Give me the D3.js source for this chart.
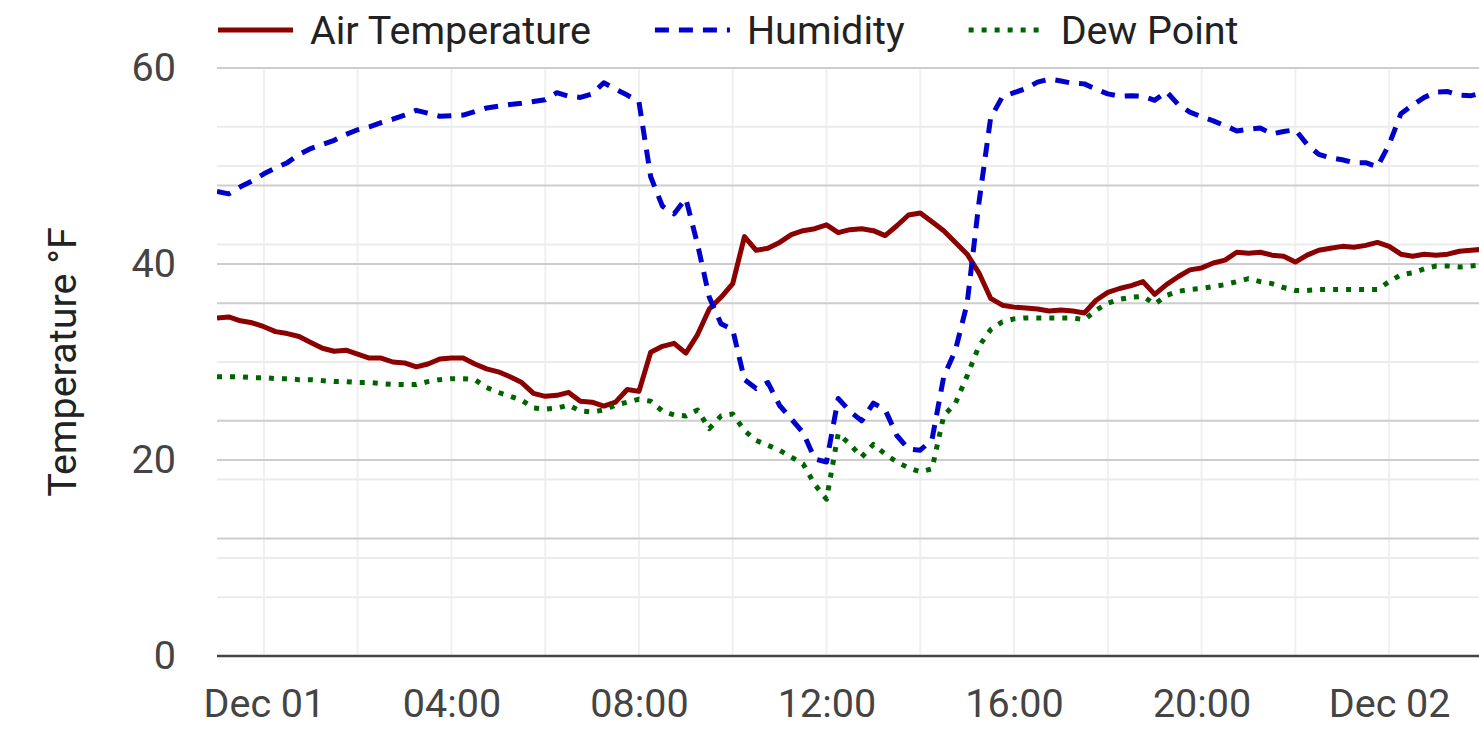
<!DOCTYPE html>
<html>
<head>
<meta charset="utf-8">
<script src="https://cdn.jsdelivr.net/npm/d3@7"></script>
<style>
  html, body { margin: 0; padding: 0; background: #fff; }
  svg { display: block; font-family: Roboto, "Noto Sans", sans-serif; }
</style>
</head>
<body>
<svg id="chart" width="1479" height="733"></svg>
<script>
//------------------------------------------------------------------------------
// Data (readings every 15 minutes, starting Nov 30 23:00)
//------------------------------------------------------------------------------

var startTime = new Date(2022, 10, 30, 23, 0);
var endTime = new Date(2022, 11, 2, 1, 55);
var sampleMinutes = 15;

var airTemp = [
  34.5, 34.6, 34.2, 34.0, 33.6, 33.1, 32.9, 32.6, 32.0, 31.4,
  31.1, 31.2, 30.8, 30.4, 30.4, 30.0, 29.9, 29.5, 29.8, 30.3,
  30.4, 30.4, 29.8, 29.3, 29.0, 28.5, 27.9, 26.8, 26.5, 26.6,
  26.9, 26.0, 25.9, 25.5, 25.9, 27.2, 27.0, 31.0, 31.6, 31.9,
  30.9, 32.8, 35.4, 36.6, 38.0, 42.8, 41.4, 41.6, 42.2, 43.0,
  43.4, 43.6, 44.0, 43.2, 43.5, 43.6, 43.4, 42.9, 43.9, 45.0,
  45.2, 44.3, 43.4, 42.2, 41.0, 39.1, 36.5, 35.8, 35.6, 35.5,
  35.4, 35.2, 35.3, 35.2, 35.0, 36.3, 37.1, 37.5, 37.8, 38.2,
  36.9, 37.9, 38.7, 39.4, 39.6, 40.1, 40.4, 41.2, 41.1, 41.2,
  40.9, 40.8, 40.2, 40.9, 41.4, 41.6, 41.8, 41.7, 41.9, 42.2,
  41.8, 41.0, 40.8, 41.0, 40.9, 41.0, 41.3, 41.4, 41.5
];

var humidity = [
  79.0, 78.6, 79.8, 80.8, 82.0, 83.0, 83.9, 85.3, 86.3, 87.0,
  87.7, 88.7, 89.5, 90.0, 90.7, 91.3, 92.0, 92.8, 92.3, 91.8,
  91.9, 92.0, 92.6, 93.2, 93.5, 93.8, 94.0, 94.3, 94.6, 95.8,
  95.2, 95.0, 95.6, 97.5, 96.4, 95.4, 94.2, 81.5, 76.5, 75.2,
  77.8, 70.0, 61.0, 56.5, 55.5, 47.0, 45.5, 46.5, 42.6, 40.3,
  38.0, 33.5, 33.0, 43.8, 41.6, 40.0, 43.0, 41.9, 37.5, 35.2,
  35.0, 36.8, 47.5, 52.0, 60.0, 77.0, 91.5, 95.1, 95.8, 96.5,
  97.6, 98.1, 97.8, 97.4, 97.3, 96.4, 95.6, 95.2, 95.3, 95.2,
  94.5, 96.0, 93.8, 92.5, 91.7, 91.0, 90.2, 89.3, 89.6, 89.8,
  88.8, 89.2, 89.5, 87.0, 85.3, 84.7, 84.4, 83.9, 83.9, 83.2,
  87.0, 92.2, 93.7, 95.0, 95.9, 96.0, 95.4, 95.3, 95.8
];

var dewPoint = [
  28.5, 28.5, 28.5, 28.4, 28.4, 28.3, 28.3, 28.2, 28.2, 28.1,
  28.0, 28.0, 27.9, 27.9, 27.8, 27.7, 27.7, 27.7, 28.0, 28.2,
  28.3, 28.3, 28.2, 27.4, 26.9, 26.5, 26.1, 25.3, 25.2, 25.3,
  25.6, 25.0, 24.9, 25.1, 25.6, 25.9, 26.2, 26.0, 25.0, 24.6,
  24.5, 25.1, 23.2, 24.5, 24.7, 23.0, 22.0, 21.5, 21.0, 20.3,
  19.6, 17.5, 16.0, 22.7, 21.6, 20.3, 21.6, 20.6, 19.8, 19.2,
  18.8, 19.1, 24.5, 25.8, 28.6, 31.6, 33.3, 34.1, 34.4, 34.5,
  34.5, 34.5, 34.5, 34.5, 34.3, 35.3, 36.0, 36.4, 36.6, 36.7,
  35.9, 36.8, 37.2, 37.4, 37.5, 37.7, 37.9, 38.2, 38.5, 38.2,
  38.0, 37.6, 37.3, 37.3, 37.4, 37.4, 37.4, 37.4, 37.4, 37.4,
  38.2, 38.9, 39.1, 39.5, 39.8, 39.8, 39.7, 39.8, 39.9
];

var tempTicks = [0, 20, 40, 60];
var tempMinorTicks = [10, 30, 50];
var humidityTicks = [20, 40, 60, 80, 100];
var humidityMinorTicks = [10, 30, 50, 70, 90];
var timeTickHours = 4;
var timeGridHours = 2;

var seriesInfo = [
  {id: "air", label: "Air Temperature", values: airTemp, axis: "temp", color: "#8b0000", dash: null},
  {id: "humidity", label: "Humidity", values: humidity, axis: "humidity", color: "#0000cd", dash: "14,10"},
  {id: "dew", label: "Dew Point", values: dewPoint, axis: "temp", color: "#006400", dash: "5,8"}
];


//------------------------------------------------------------------------------
//
// Chart
//
//------------------------------------------------------------------------------

var chart = {

  margin: {top: 68, right: 0, bottom: 77, left: 217},
  width: 1479,
  height: 733,
  lineWidth: 5,
  fontSize: 39.5,

  initialize: function() {
    this.svg = d3.select("#chart");
    this.plotW = this.width - this.margin.left - this.margin.right;
    this.plotH = this.height - this.margin.top - this.margin.bottom;

    this.x = d3.scaleTime()
      .domain([startTime, endTime])
      .range([this.margin.left, this.margin.left + this.plotW]);
    this.yTemp = d3.scaleLinear()
      .domain([0, 60])
      .range([this.margin.top + this.plotH, this.margin.top]);
    this.yHumidity = d3.scaleLinear()
      .domain([0, 100])
      .range([this.margin.top + this.plotH, this.margin.top]);

    this.times = airTemp.map(function(d, i) {
      return d3.timeMinute.offset(startTime, sampleMinutes * i);
    });

    this.drawGrid();
    this.drawAxes();
    this.drawLines();
    this.drawLegend();
  },

  //--------------------------------------
  // Grid
  //--------------------------------------

  drawGrid: function() {
    var $this = this;
    var g = this.svg.append("g").attr("class", "grid");
    var top = this.margin.top, bottom = this.margin.top + this.plotH;
    var left = this.margin.left, right = this.margin.left + this.plotW;

    g.selectAll(".vgrid")
      .data(this.x.ticks(d3.timeHour.every(timeGridHours)))
      .enter().append("line")
      .attr("x1", function(d) { return $this.x(d); })
      .attr("x2", function(d) { return $this.x(d); })
      .attr("y1", top).attr("y2", bottom)
      .style("stroke", "#f0f0f0")
      .style("stroke-width", 2);

    var minor = tempMinorTicks.map(function(v) { return $this.yTemp(v); })
      .concat(humidityMinorTicks.map(function(v) { return $this.yHumidity(v); }));
    var major = tempTicks.filter(function(v) { return v > 0; }).map(function(v) { return $this.yTemp(v); })
      .concat(humidityTicks.map(function(v) { return $this.yHumidity(v); }));

    g.selectAll(".hminor")
      .data(minor)
      .enter().append("line")
      .attr("x1", left).attr("x2", right)
      .attr("y1", function(d) { return d; })
      .attr("y2", function(d) { return d; })
      .style("stroke", "#ebebeb")
      .style("stroke-width", 2);

    g.selectAll(".hmajor")
      .data(major)
      .enter().append("line")
      .attr("x1", left).attr("x2", right)
      .attr("y1", function(d) { return d; })
      .attr("y2", function(d) { return d; })
      .style("stroke", "#cdcdcd")
      .style("stroke-width", 2);
  },

  //--------------------------------------
  // Axes
  //--------------------------------------

  drawAxes: function() {
    var bottom = this.margin.top + this.plotH;
    var fmt = function(d) {
      return (d.getHours() === 0 ? d3.timeFormat("%b %d") : d3.timeFormat("%H:%M"))(d);
    };

    var xAxis = this.svg.append("g")
      .attr("transform", "translate(0," + bottom + ")")
      .call(d3.axisBottom(this.x)
        .ticks(d3.timeHour.every(timeTickHours))
        .tickFormat(fmt)
        .tickSize(0)
        .tickPadding(33));
    xAxis.select(".domain").remove();
    xAxis.selectAll("text")
      .style("font-family", "Roboto, sans-serif")
      .style("font-size", this.fontSize + "px")
      .style("fill", "#444");

    var yAxis = this.svg.append("g")
      .attr("transform", "translate(" + this.margin.left + ",0)")
      .call(d3.axisLeft(this.yTemp)
        .tickValues(tempTicks)
        .tickSize(0)
        .tickPadding(41));
    yAxis.select(".domain").remove();
    yAxis.selectAll("text")
      .style("font-family", "Roboto, sans-serif")
      .style("font-size", this.fontSize + "px")
      .style("fill", "#444");

    // Base line of the plot
    this.svg.append("line")
      .attr("x1", this.margin.left).attr("x2", this.margin.left + this.plotW)
      .attr("y1", bottom).attr("y2", bottom)
      .style("stroke", "#444")
      .style("stroke-width", 2.5);

    this.svg.append("text")
      .attr("transform", "translate(76," + (this.margin.top + this.plotH / 2) + ") rotate(-90)")
      .attr("text-anchor", "middle")
      .style("font-size", this.fontSize + "px")
      .style("fill", "#222")
      .text("Temperature \u00b0F");
  },

  //--------------------------------------
  // Lines
  //--------------------------------------

  drawLines: function() {
    var $this = this;
    this.svg.append("clipPath").attr("id", "plot-clip")
      .append("rect")
      .attr("x", this.margin.left).attr("y", 0)
      .attr("width", this.plotW).attr("height", this.margin.top + this.plotH);

    var g = this.svg.append("g").attr("clip-path", "url(#plot-clip)");

    seriesInfo.forEach(function(s) {
      var y = s.axis === "temp" ? $this.yTemp : $this.yHumidity;
      var line = d3.line()
        .x(function(d, i) { return $this.x($this.times[i]); })
        .y(function(d) { return y(d); });
      g.append("path")
        .datum(s.values)
        .attr("d", line)
        .style("fill", "none")
        .style("stroke", s.color)
        .style("stroke-width", $this.lineWidth)
        .style("stroke-linejoin", "round")
        .style("stroke-dasharray", s.dash);
    });
  },

  //--------------------------------------
  // Legend
  //--------------------------------------

  drawLegend: function() {
    var $this = this;
    var g = this.svg.append("g").attr("class", "legend");
    var x = 218, y = 30, sample = 75, gap = 64;

    seriesInfo.forEach(function(s) {
      g.append("line")
        .attr("x1", x).attr("x2", x + sample)
        .attr("y1", y).attr("y2", y)
        .style("stroke", s.color)
        .style("stroke-width", $this.lineWidth)
        .style("stroke-dasharray", s.dash);
      var t = g.append("text")
        .attr("x", x + sample + 17)
        .attr("y", y + 14)
        .style("font-size", $this.fontSize + "px")
        .style("fill", "#222")
        .text(s.label);
      x = x + sample + 17 + t.node().getComputedTextLength() + gap;
    });
  }

};

chart.initialize();
</script>
</body>
</html>
